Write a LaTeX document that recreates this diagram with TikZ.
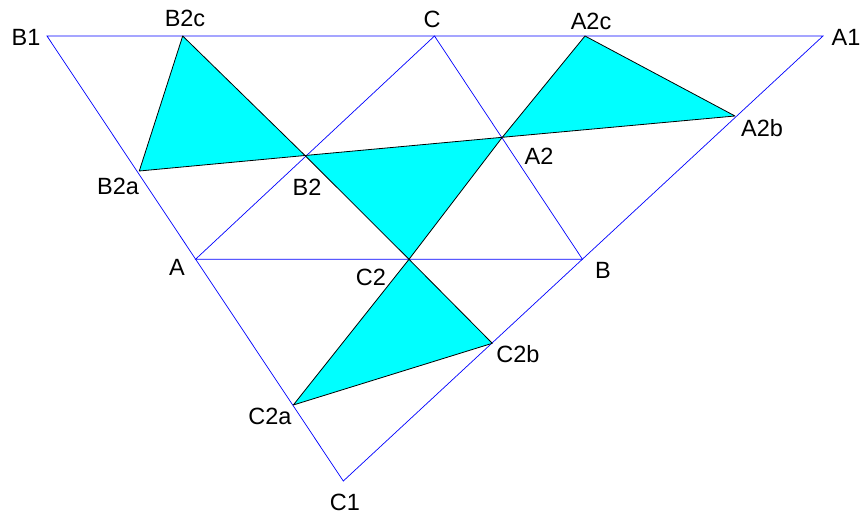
\documentclass[tikz,border=0pt]{standalone}
\usepackage{fontspec}
\setmainfont{Liberation Sans}
\usepackage{tikz}
\usetikzlibrary{positioning}
\usepackage{xcolor}
\definecolor{lineblue}{RGB}{0,0,255}
\definecolor{aqua}{RGB}{0,255,255}

\begin{document}
\begin{tikzpicture}[x=1pt,y=-1pt,
  blueline/.style={draw=lineblue,line width=0.7pt},
  shade/.style={fill=aqua,draw=black,line width=0.8pt,line join=round},
  lbl/.style={inner sep=0pt,font=\fontsize{23.5}{27}\selectfont}]
\useasboundingbox (0,0) rectangle (864,516);
% outer triangle and its midpoints
\coordinate (B1) at (47,36);
\coordinate (A1) at (823,36);
\coordinate (C1) at (343.3,481);
\coordinate (A) at (195.5,259.3);
\coordinate (B) at (582.5,259.3);
\coordinate (C) at (434.5,36);
% points of the shaded triangles
\coordinate (A2) at (502.3,137.3);
\coordinate (B2) at (305,155.5);
\coordinate (C2) at (409,259.3);
\coordinate (A2b) at (735,116);
\coordinate (A2c) at (585,36);
\coordinate (B2a) at (139.3,171);
\coordinate (B2c) at (182.7,36);
\coordinate (C2a) at (293.3,405);
\coordinate (C2b) at (492.3,343.3);

\draw[blueline] (B1) -- (A1) -- (C1) -- cycle;
\draw[blueline] (A) -- (B) -- (C) -- cycle;

\draw[shade] (B2c) -- (B2) -- (B2a) -- cycle;
\draw[shade] (B2) -- (A2) -- (C2) -- cycle;
\draw[shade] (A2c) -- (A2b) -- (A2) -- cycle;
\draw[shade] (C2) -- (C2b) -- (C2a) -- cycle;

\node[lbl] (lB1) at (26,37) {B1};
\node[lbl] (lA1) at (846,37) {A1};
\node[lbl] (lC1) at (345,502) {C1};
\node[lbl] (lA) at (177,267) {A};
\node[lbl] (lB) at (603,270) {B};
\node[lbl] (lC) at (432,19) {C};
\node[lbl] (lA2) at (539,156) {A2};
\node[lbl] (lB2) at (307,187) {B2};
\node[lbl] (lC2) at (371,277) {C2};
\node[lbl] (lA2b) at (762,128) {A2b};
\node[lbl] (lA2c) at (591,21) {A2c};
\node[lbl] (lB2a) at (118,186) {B2a};
\node[lbl] (lB2c) at (185,18) {B2c};
\node[lbl] (lC2a) at (270,416) {C2a};
\node[lbl] (lC2b) at (518,354) {C2b};
\end{tikzpicture}
\end{document}
